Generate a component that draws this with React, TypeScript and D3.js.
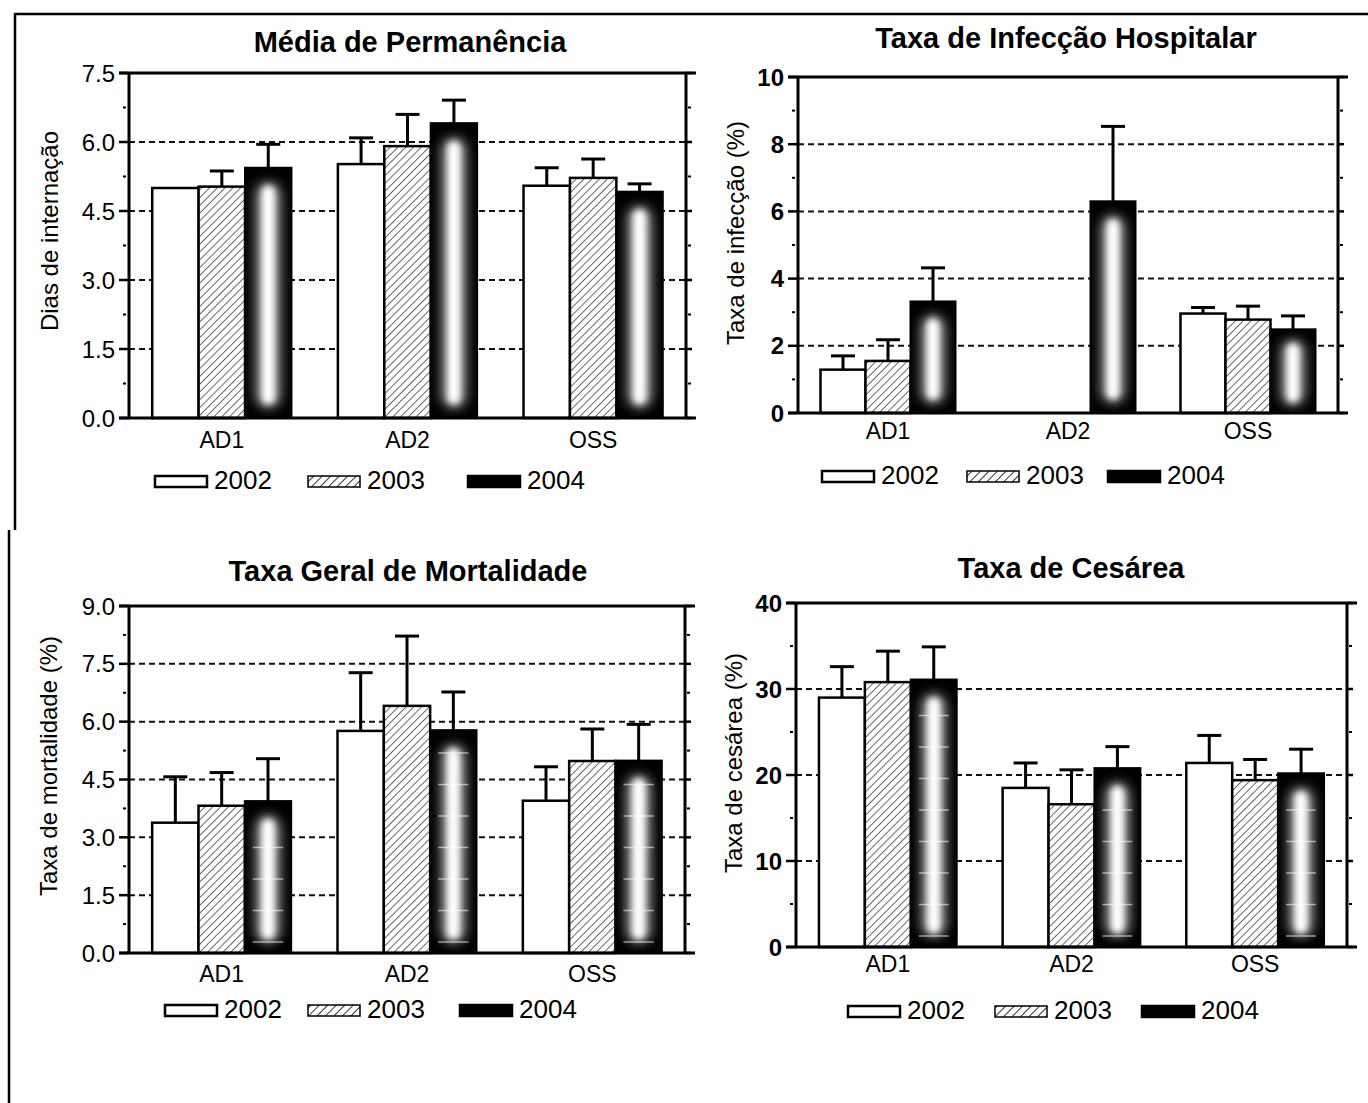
import React from 'react';
import * as d3 from 'd3';

const categories = ['AD1', 'AD2', 'OSS'];
const years = ['2002', '2003', '2004'];

// Média de permanência (dias de internação), [categoria][ano]
const permanenciaMean = [
  [5.0, 5.03, 5.44],
  [5.52, 5.91, 6.41],
  [5.05, 5.22, 4.92],
];
const permanenciaErr = [
  [0, 0.34, 0.51],
  [0.57, 0.69, 0.5],
  [0.39, 0.41, 0.17],
];

// Taxa de infecção hospitalar (%)
const infeccaoMean = [
  [1.29, 1.55, 3.32],
  [0, 0, 6.3],
  [2.96, 2.78, 2.49],
];
const infeccaoErr = [
  [0.41, 0.63, 1.0],
  [0, 0, 2.23],
  [0.18, 0.4, 0.4],
];

// Taxa geral de mortalidade (%)
const mortalidadeMean = [
  [3.38, 3.82, 3.94],
  [5.76, 6.41, 5.78],
  [3.95, 4.98, 4.99],
];
const mortalidadeErr = [
  [1.19, 0.86, 1.1],
  [1.51, 1.81, 0.99],
  [0.88, 0.83, 0.94],
];

// Taxa de cesárea (%)
const cesareaMean = [
  [29.0, 30.8, 31.1],
  [18.5, 16.6, 20.8],
  [21.4, 19.4, 20.2],
];
const cesareaErr = [
  [3.6, 3.6, 3.8],
  [2.9, 4.0, 2.5],
  [3.2, 2.4, 2.8],
];

const FONT = "'Liberation Sans', Arial, Helvetica, sans-serif";

type Spec = {
  title: string;
  yLabel: string;
  mean: number[][];
  err: number[][];
  max: number;
  step: number;
  minor: number;
  fmt: string;
  boldTicks: boolean;
  left: number;
  right: number;
  top: number;
  bottom: number;
  titleX: number;
  titleY: number;
  yLabelX: number;
  yLabelY: number;
  catY: number;
  legendTop: number;
  legendX: number[];
  ladder: boolean;
};

const panels: Spec[] = [
  {
    title: 'Média de Permanência', yLabel: 'Dias de internação',
    mean: permanenciaMean, err: permanenciaErr,
    max: 7.5, step: 1.5, minor: 0.75, fmt: '.1f', boldTicks: false,
    left: 129, right: 686, top: 73, bottom: 418,
    titleX: 410, titleY: 52, yLabelX: 49, yLabelY: 231, catY: 448,
    legendTop: 476, legendX: [155, 308, 468], ladder: false,
  },
  {
    title: 'Taxa de Infecção Hospitalar', yLabel: 'Taxa de infecção (%)',
    mean: infeccaoMean, err: infeccaoErr,
    max: 10, step: 2, minor: 1, fmt: 'd', boldTicks: true,
    left: 798, right: 1338, top: 77, bottom: 413,
    titleX: 1066, titleY: 48, yLabelX: 735, yLabelY: 233, catY: 439,
    legendTop: 471, legendX: [822, 967, 1108], ladder: false,
  },
  {
    title: 'Taxa Geral de Mortalidade', yLabel: 'Taxa de mortalidade (%)',
    mean: mortalidadeMean, err: mortalidadeErr,
    max: 9, step: 1.5, minor: 0.75, fmt: '.1f', boldTicks: false,
    left: 129, right: 685, top: 606, bottom: 953,
    titleX: 408, titleY: 581, yLabelX: 48, yLabelY: 766, catY: 982,
    legendTop: 1005, legendX: [165, 308, 460], ladder: true,
  },
  {
    title: 'Taxa de Cesárea', yLabel: 'Taxa de cesárea (%)',
    mean: cesareaMean, err: cesareaErr,
    max: 40, step: 10, minor: 5, fmt: 'd', boldTicks: true,
    left: 796, right: 1347, top: 603, bottom: 947,
    titleX: 1071, titleY: 578, yLabelX: 733, yLabelY: 763, catY: 972,
    legendTop: 1006, legendX: [848, 995, 1142], ladder: true,
  },
];

function Panel({ spec, pi }: { spec: Spec; pi: number }) {
  const y = d3.scaleLinear().domain([0, spec.max]).range([spec.bottom, spec.top]);
  const x0 = d3.scaleBand<string>().domain(categories).range([spec.left, spec.right]);
  const groupW = x0.bandwidth() * 0.75;
  const x1 = d3.scaleBand<string>().domain(years).range([0, groupW]);
  const bw = x1.bandwidth();
  const majors = d3.range(0, spec.max + 1e-9, spec.step);
  const minors = d3
    .range(0, spec.max + 1e-9, spec.minor)
    .filter((v) => !majors.some((m) => Math.abs(m - v) < 1e-6));
  const fmt = d3.format(spec.fmt);
  const grid = majors.filter((v) => v > 0 && v < spec.max - 1e-9);

  const bars: any[] = [];
  categories.forEach((cat, ci) => {
    years.forEach((yr, yi) => {
      const v = spec.mean[ci][yi];
      const e = spec.err[ci][yi];
      const bx = (x0(cat) as number) + (x0.bandwidth() - groupW) / 2 + (x1(yr) as number);
      bars.push({ cat, yr, ci, yi, v, e, bx, cx: bx + bw / 2 });
    });
  });

  return (
    <g>
      <text x={spec.titleX} y={spec.titleY} textAnchor="middle" fontFamily={FONT}
        fontWeight="bold" fontSize={29} fill="#000">{spec.title}</text>
      <text transform={`translate(${spec.yLabelX},${spec.yLabelY}) rotate(-90)`} textAnchor="middle"
        dominantBaseline="central" fontFamily={FONT} fontSize={24} fill="#000">{spec.yLabel}</text>

      {/* dashed grid lines */}
      {grid.map((v) => (
        <line key={`g${v}`} x1={spec.left} x2={spec.right} y1={y(v)} y2={y(v)}
          stroke="#111" strokeWidth={2} strokeDasharray="6 4" />
      ))}

      {/* bars */}
      {bars.map((b) => {
        if (b.v <= 0) return null;
        const top = y(b.v);
        const h = spec.bottom - top;
        const key = `b${b.ci}${b.yi}`;
        if (b.yi === 0) {
          return <rect key={key} x={b.bx} y={top} width={bw} height={h} fill="#fff" stroke="#000" strokeWidth={2.5} />;
        }
        if (b.yi === 1) {
          return <rect key={key} x={b.bx} y={top} width={bw} height={h} fill="url(#hatch)" stroke="#000" strokeWidth={2.5} />;
        }
        const clipId = `clip-${pi}-${b.ci}`;
        const inset = Math.min(14, h * 0.12);
        const rungs: number[] = [];
        if (spec.ladder) {
          for (let yy = spec.bottom - 11; yy > top + 16; yy -= 31.5) rungs.push(yy);
        }
        return (
          <g key={key}>
            <clipPath id={clipId}>
              <rect x={b.bx} y={top} width={bw} height={h} />
            </clipPath>
            <rect x={b.bx} y={top} width={bw} height={h} fill="#000" />
            <g clipPath={`url(#${clipId})`}>
              <rect x={b.cx - bw * 0.28} y={top + inset} width={bw * 0.56} height={h - inset * 1.7}
                rx={bw * 0.28} fill="#8a8a8a" filter="url(#glowWide)" />
              <rect x={b.cx - bw * 0.14} y={top + inset + 4} width={bw * 0.28} height={h - inset * 1.7 - 8}
                rx={bw * 0.14} fill="#fff" filter="url(#glowCore)" />
              {rungs.map((ry) => (
                <line key={ry} x1={b.bx + 8} x2={b.bx + bw - 8} y1={ry} y2={ry}
                  stroke="#fff" strokeOpacity={0.55} strokeWidth={1.5} />
              ))}
            </g>
            <rect x={b.bx} y={top} width={bw} height={h} fill="none" stroke="#000" strokeWidth={2} />
          </g>
        );
      })}

      {/* error bars (upper only) */}
      {bars.map((b) => {
        if (b.v <= 0 || b.e <= 0) return null;
        const yt = y(b.v + b.e);
        return (
          <g key={`e${b.ci}${b.yi}`}>
            <line x1={b.cx} x2={b.cx} y1={y(b.v)} y2={yt} stroke="#000" strokeWidth={3} />
            <line x1={b.cx - 12} x2={b.cx + 12} y1={yt} y2={yt} stroke="#000" strokeWidth={3} />
          </g>
        );
      })}

      {/* frame and axes */}
      <line x1={spec.left - 10} x2={spec.right + 10} y1={spec.top} y2={spec.top} stroke="#000" strokeWidth={3} />
      <line x1={spec.left - 10} x2={spec.right + 10} y1={spec.bottom} y2={spec.bottom} stroke="#000" strokeWidth={3} />
      <line x1={spec.left} x2={spec.left} y1={spec.top} y2={spec.bottom} stroke="#000" strokeWidth={3} />
      <line x1={spec.right} x2={spec.right} y1={spec.top} y2={spec.bottom} stroke="#000" strokeWidth={3} />

      {majors.map((v) => (
        <g key={`t${v}`}>
          <line x1={spec.left - 10} x2={spec.left} y1={y(v)} y2={y(v)} stroke="#000" strokeWidth={2.5} />
          <line x1={spec.right} x2={spec.right + 6} y1={y(v)} y2={y(v)} stroke="#000" strokeWidth={2.5} />
          <text x={spec.left - 14} y={y(v)} textAnchor="end" dominantBaseline="central" fontFamily={FONT}
            fontSize={24} fontWeight={spec.boldTicks ? 'bold' : 'normal'} fill="#000">{fmt(v)}</text>
        </g>
      ))}
      {minors.map((v) => (
        <g key={`m${v}`}>
          <line x1={spec.left - 6} x2={spec.left - 3} y1={y(v)} y2={y(v)} stroke="#000" strokeWidth={2} />
          <line x1={spec.right + 2} x2={spec.right + 5} y1={y(v)} y2={y(v)} stroke="#000" strokeWidth={2} />
        </g>
      ))}

      {categories.map((cat) => (
        <text key={cat} x={(x0(cat) as number) + x0.bandwidth() / 2} y={spec.catY} textAnchor="middle"
          fontFamily={FONT} fontSize={23} fill="#000">{cat}</text>
      ))}

      {/* legend */}
      {years.map((yr, yi) => {
        const lx = spec.legendX[yi];
        const fill = yi === 0 ? '#fff' : yi === 1 ? 'url(#hatchLegend)' : '#000';
        return (
          <g key={`l${yr}`}>
            <rect x={lx} y={spec.legendTop} width={52} height={11} fill={fill} stroke="#000"
              strokeWidth={yi === 1 ? 1.5 : 2.5} />
            <text x={lx + 59} y={spec.legendTop + 13} fontFamily={FONT} fontSize={26} fill="#000">{yr}</text>
          </g>
        );
      })}
    </g>
  );
}

export default function App() {
  return (
    <svg width={1368} height={1103} viewBox="0 0 1368 1103"
      style={{ position: 'absolute', left: 0, top: 0, display: 'block', background: '#fff' }}>
      <defs>
        <pattern id="hatch" patternUnits="userSpaceOnUse" width={5.5} height={5.5} patternTransform="rotate(45)">
          <rect width={5.5} height={5.5} fill="#fff" />
          <line x1={0} y1={0} x2={0} y2={5.5} stroke="#2a2a2a" strokeWidth={1.4} />
        </pattern>
        <pattern id="hatchLegend" patternUnits="userSpaceOnUse" width={6} height={6} patternTransform="rotate(45)">
          <rect width={6} height={6} fill="#fff" />
          <line x1={0} y1={0} x2={0} y2={6} stroke="#000" strokeWidth={1.6} />
        </pattern>
        <filter id="glowWide" x="-100%" y="-20%" width="300%" height="140%">
          <feGaussianBlur stdDeviation={6} />
        </filter>
        <filter id="glowCore" x="-100%" y="-20%" width="300%" height="140%">
          <feGaussianBlur stdDeviation={3} />
        </filter>
      </defs>
      <rect width={1368} height={1103} fill="#fff" />
      {/* outer frame */}
      <line x1={15} x2={1368} y1={14} y2={14} stroke="#000" strokeWidth={2.5} />
      <line x1={15} x2={15} y1={13} y2={530} stroke="#000" strokeWidth={2.5} />
      <line x1={9} x2={9} y1={530} y2={1103} stroke="#000" strokeWidth={2.5} />
      {panels.map((p, i) => (
        <Panel key={i} spec={p} pi={i} />
      ))}
    </svg>
  );
}
